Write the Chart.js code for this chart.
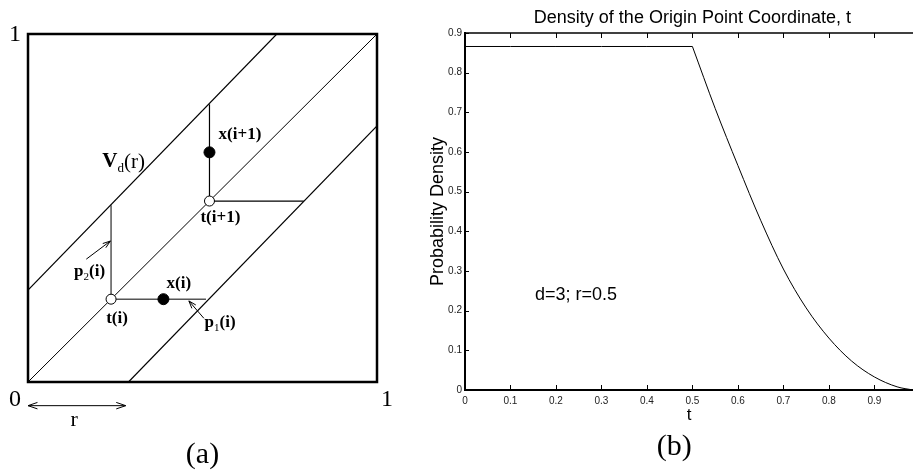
<!DOCTYPE html>
<html>
<head>
<meta charset="utf-8">
<script src="https://cdn.jsdelivr.net/npm/chart.js@4/dist/chart.umd.min.js"></script>
<style>
  html, body { margin: 0; padding: 0; background: #fff; overflow: hidden; }
  #wrapA { position: absolute; left: 0; top: 0; width: 420px; height: 470px; }
  #wrapB { position: absolute; left: 420px; top: 0; width: 493px; height: 470px; }
</style>
</head>
<body>
<div id="wrapA"><canvas id="diagram"></canvas></div>
<div id="wrapB"><canvas id="density"></canvas></div>
<script>
// ---- panel (a): the strip diagram, unit square coordinates ----
const diagonal = [[0, 0], [1, 1]];
const upperEdge = [[0, 0.264], [0.713, 1]];
const lowerEdge = [[0.288, 0], [1, 0.736]];
const originPoints = [[0.238, 0.238], [0.52, 0.52]];   // t(i), t(i+1)
const samplePoints = [[0.388, 0.238], [0.52, 0.66]];   // x(i), x(i+1)
const p2Segment = [[0.238, 0.238], [0.238, 0.508]];
const p1Segment = [[0.238, 0.238], [0.51, 0.238]];
const nextVertical = [[0.52, 0.52], [0.52, 0.798]];
const nextHorizontal = [[0.52, 0.52], [0.79, 0.52]];

// ---- panel (b): density of t ----
const plateauT = [0, 0.1, 0.2, 0.3, 0.4, 0.5];
const plateauDensity = [0.866, 0.866, 0.866, 0.866, 0.866, 0.866];
const tailT = [0.5, 0.55, 0.6, 0.65, 0.7, 0.75, 0.8, 0.85, 0.9, 0.95, 0.985];
const tailDensity = [0.866, 0.71, 0.566, 0.428, 0.305, 0.207, 0.131, 0.073, 0.033, 0.008, 0];
const xTickStep = 0.1;
const yTickStep = 0.1;

const pts = arr => arr.map(([x, y]) => ({x, y}));
const zip = (xs, ys) => xs.map((x, i) => ({x, y: ys[i]}));

const SERIF = '"Liberation Serif", "DejaVu Serif", serif';
const SANS = '"Liberation Sans", Arial, sans-serif';

function drawRich(ctx, x, y, parts, size) {
  let cx = x;
  parts.forEach(p => {
    const s = p.sub ? Math.round(size * 0.62) : size;
    ctx.font = (p.bold ? 'bold ' : '') + s + 'px ' + SERIF;
    ctx.fillText(p.t, cx, y + (p.sub ? size * 0.32 : 0));
    cx += ctx.measureText(p.t).width;
  });
}

function arrowHead(ctx, x0, y0, x1, y1, len) {
  const ang = Math.atan2(y1 - y0, x1 - x0);
  ctx.moveTo(x1 - len * Math.cos(ang - 0.33), y1 - len * Math.sin(ang - 0.33));
  ctx.lineTo(x1, y1);
  ctx.lineTo(x1 - len * Math.cos(ang + 0.33), y1 - len * Math.sin(ang + 0.33));
}

const diagramLabels = [
  {at: [0.213, 0.632], size: 21, parts: [{t: 'V', bold: true}, {t: 'd', sub: true}, {t: '(r)'}]},
  {at: [0.546, 0.71], size: 17, parts: [{t: 'x(i+1)', bold: true}]},
  {at: [0.494, 0.471], size: 17, parts: [{t: 't(i+1)', bold: true}]},
  {at: [0.132, 0.316], size: 17, parts: [{t: 'p', bold: true}, {t: '2', sub: true}, {t: '(i)', bold: true}]},
  {at: [0.397, 0.284], size: 17, parts: [{t: 'x(i)', bold: true}]},
  {at: [0.224, 0.181], size: 17, parts: [{t: 't(i)', bold: true}]},
  {at: [0.506, 0.17], size: 17, parts: [{t: 'p', bold: true}, {t: '1', sub: true}, {t: '(i)', bold: true}]}
];

const diagramDecor = {
  id: 'diagramDecor',
  afterDraw(chart) {
    const {ctx, chartArea: a, scales: {x, y}} = chart;
    const px = v => x.getPixelForValue(v);
    const py = v => y.getPixelForValue(v);
    ctx.save();
    ctx.strokeStyle = '#000';
    ctx.fillStyle = '#000';
    ctx.lineWidth = 2.5;
    ctx.strokeRect(a.left, a.top, a.right - a.left, a.bottom - a.top);

    // small arrows
    ctx.lineWidth = 1;
    ctx.beginPath();
    [[[0.167, 0.353], [0.236, 0.405]], [[0.504, 0.183], [0.461, 0.233]]].forEach(([s, e]) => {
      ctx.moveTo(px(s[0]), py(s[1]));
      ctx.lineTo(px(e[0]), py(e[1]));
      arrowHead(ctx, px(s[0]), py(s[1]), px(e[0]), py(e[1]), 8);
    });
    // r arrow
    const ry = py(-0.068);
    ctx.moveTo(px(0), ry);
    ctx.lineTo(px(0.28), ry);
    arrowHead(ctx, px(0.28), ry, px(0), ry, 10);
    arrowHead(ctx, px(0), ry, px(0.28), ry, 10);
    ctx.stroke();

    ctx.textBaseline = 'middle';
    ctx.textAlign = 'center';
    ctx.font = '24px ' + SERIF;
    ctx.fillText('1', px(-0.037), py(0.997));
    ctx.fillText('0', px(-0.037), py(-0.052));
    ctx.fillText('1', px(1.029), py(-0.052));
    ctx.font = '22px ' + SERIF;
    ctx.fillText('r', px(0.132), py(-0.109));
    ctx.font = '30px ' + SERIF;
    ctx.fillText('(a)', px(0.5), py(-0.21));

    ctx.textAlign = 'left';
    diagramLabels.forEach(l => drawRich(ctx, px(l.at[0]), py(l.at[1]), l.parts, l.size));
    ctx.restore();
  }
};

const seg = (data, color, width) => ({
  data: pts(data), showLine: true, borderColor: color, borderWidth: width,
  pointRadius: 0, fill: false
});

new Chart(document.getElementById('diagram'), {
  type: 'scatter',
  data: {
    datasets: [
      {data: pts(samplePoints), pointRadius: 5.5, backgroundColor: '#000', borderColor: '#000', showLine: false},
      {data: pts(originPoints), pointRadius: 5, backgroundColor: '#fff', borderColor: '#000', borderWidth: 1, showLine: false},
      seg(diagonal, '#000', 1),
      seg(upperEdge, '#000', 1.2),
      seg(lowerEdge, '#000', 1.2),
      seg(p2Segment, '#555', 1.5),
      seg(p1Segment, '#555', 1.5),
      seg(nextVertical, '#000', 1.2),
      seg(nextHorizontal, '#000', 1.2)
    ]
  },
  options: {
    responsive: true,
    maintainAspectRatio: false,
    animation: false,
    layout: {padding: {left: 28, right: 43, top: 34, bottom: 88}},
    plugins: {legend: {display: false}, tooltip: {enabled: false}},
    scales: {
      x: {type: 'linear', min: 0, max: 1, display: false},
      y: {type: 'linear', min: 0, max: 1, display: false}
    }
  },
  plugins: [diagramDecor]
});

// ---- panel (b) ----
const densityDecor = {
  id: 'densityDecor',
  afterDraw(chart) {
    const {ctx, chartArea: a, scales: {x, y}} = chart;
    ctx.save();
    ctx.strokeStyle = '#000';
    ctx.lineWidth = 1;
    ctx.beginPath();
    x.ticks.forEach(t => {
      if (t.value === 0) return;
      const p = Math.round(x.getPixelForValue(t.value)) + 0.5;
      ctx.moveTo(p, a.bottom); ctx.lineTo(p, a.bottom - 5);
      ctx.moveTo(p, a.top); ctx.lineTo(p, a.top + 5);
    });
    y.ticks.forEach(t => {
      if (t.value === 0) return;
      const p = Math.round(y.getPixelForValue(t.value)) + 0.5;
      ctx.moveTo(a.left, p); ctx.lineTo(a.left + 4, p);
    });
    ctx.stroke();
    ctx.lineWidth = 1.5;
    ctx.beginPath();
    ctx.moveTo(a.left, a.top); ctx.lineTo(a.right, a.top);
    ctx.stroke();

    ctx.fillStyle = '#000';
    ctx.textBaseline = 'middle';
    ctx.textAlign = 'center';
    ctx.font = '18px ' + SANS;
    ctx.fillText('Density of the Origin Point Coordinate, t', x.getPixelForValue(0.5), 18);
    ctx.font = '30px ' + SERIF;
    ctx.fillText('(b)', x.getPixelForValue(0.46), 447);
    ctx.textAlign = 'left';
    ctx.font = '18px ' + SANS;
    ctx.fillText('d=3; r=0.5', x.getPixelForValue(0.154), y.getPixelForValue(0.24));
    ctx.restore();
  }
};

new Chart(document.getElementById('density'), {
  type: 'scatter',
  data: {
    datasets: [
      {data: zip(plateauT, plateauDensity), showLine: true, borderColor: '#000', borderWidth: 1, pointRadius: 0},
      {data: zip(tailT, tailDensity), showLine: true, borderColor: '#000', borderWidth: 1, pointRadius: 0,
       cubicInterpolationMode: 'monotone'}
    ]
  },
  options: {
    responsive: true,
    maintainAspectRatio: false,
    animation: false,
    layout: {padding: {top: 33, bottom: 44, left: 0, right: 0}},
    plugins: {legend: {display: false}, tooltip: {enabled: false}},
    scales: {
      x: {
        type: 'linear', min: 0, max: 0.985,
        afterFit: s => { s.height = 36; },
        grid: {display: false, drawTicks: false},
        border: {display: true, color: '#000', width: 2},
        ticks: {stepSize: xTickStep, includeBounds: false, padding: 5, color: '#222',
                font: {family: SANS, size: 10}, maxRotation: 0},
        title: {display: true, text: 't', color: '#000', font: {family: SANS, size: 17}, padding: 0}
      },
      y: {
        type: 'linear', min: 0, max: 0.9,
        afterFit: s => { s.width = 45; },
        grid: {display: false, drawTicks: false},
        border: {display: true, color: '#000', width: 2},
        ticks: {stepSize: yTickStep, padding: 3, color: '#222', font: {family: SANS, size: 10}},
        title: {display: true, text: 'Probability Density', color: '#000',
                font: {family: SANS, size: 18}, padding: {top: 7, bottom: 0}}
      }
    }
  },
  plugins: [densityDecor]
});
</script>
</body>
</html>
